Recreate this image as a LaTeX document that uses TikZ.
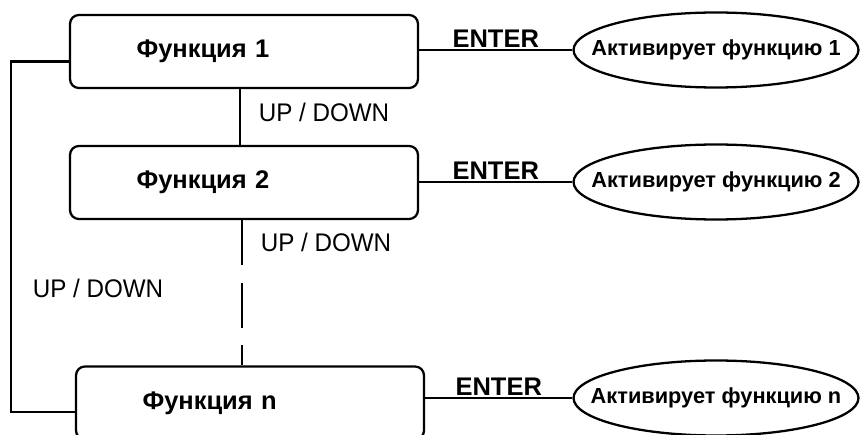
\documentclass[tikz,border=0pt]{standalone}
\usepackage{fontspec}
\setmainfont{Liberation Sans}
\usetikzlibrary{positioning, shapes.geometric}

\tikzset{
  funcbox/.style={draw, rounded corners=5pt, minimum width=6.96cm, minimum height=1.46cm,
    text width=4.3cm, inner xsep=1.3cm, align=left, font=\fontsize{14.5}{17}\selectfont\bfseries},
  actell/.style={draw, ellipse, minimum width=5.7cm, minimum height=1.5cm, inner xsep=-0.5cm, inner ysep=0pt,
    font=\fontsize{12.4}{15}\selectfont\bfseries},
  keylab/.style={font=\fontsize{14.5}{17}\selectfont\bfseries, inner sep=1pt},
  updown/.style={font=\fontsize{14.5}{17}\selectfont, xscale=0.95}
}

\begin{document}
\begin{tikzpicture}[x=0.02cm, y=-0.02cm, line width=1.3pt]
  \clip (0,0) rectangle (861,435);
  \foreach \i/\bx/\by/\ey in {1/244/51.5/50, 2/244/182.5/182, n/250/403/398}{
    \node[funcbox] (f\i) at (\bx,\by) {Функция \i};
    \node[actell] (e\i) at (716,\ey) {Активирует функцию \i};
    \draw (f\i.east |- e\i.west) -- node[keylab, midway, above] (k\i) {ENTER} (e\i.west);
  }
  % up / down between the functions
  \draw ([xshift=-0.08cm]f1.south) -- ([xshift=-0.08cm]f2.north);
  \draw[dash pattern=on 0.9cm off 0.35cm] ([xshift=-0.04cm]f2.south) -- ([xshift=-0.04cm]f2.south |- fn.north);
  \draw ([yshift=-0.2cm]f1.west) -- ++(-58,0) |- ([yshift=-0.18cm]fn.west);
  \node[updown] (ud1) at (324,112) {UP / DOWN};
  \node[updown] (ud2) at (326,242) {UP / DOWN};
  \node[updown] (ud3) at (98,288) {UP / DOWN};
\end{tikzpicture}
\end{document}
